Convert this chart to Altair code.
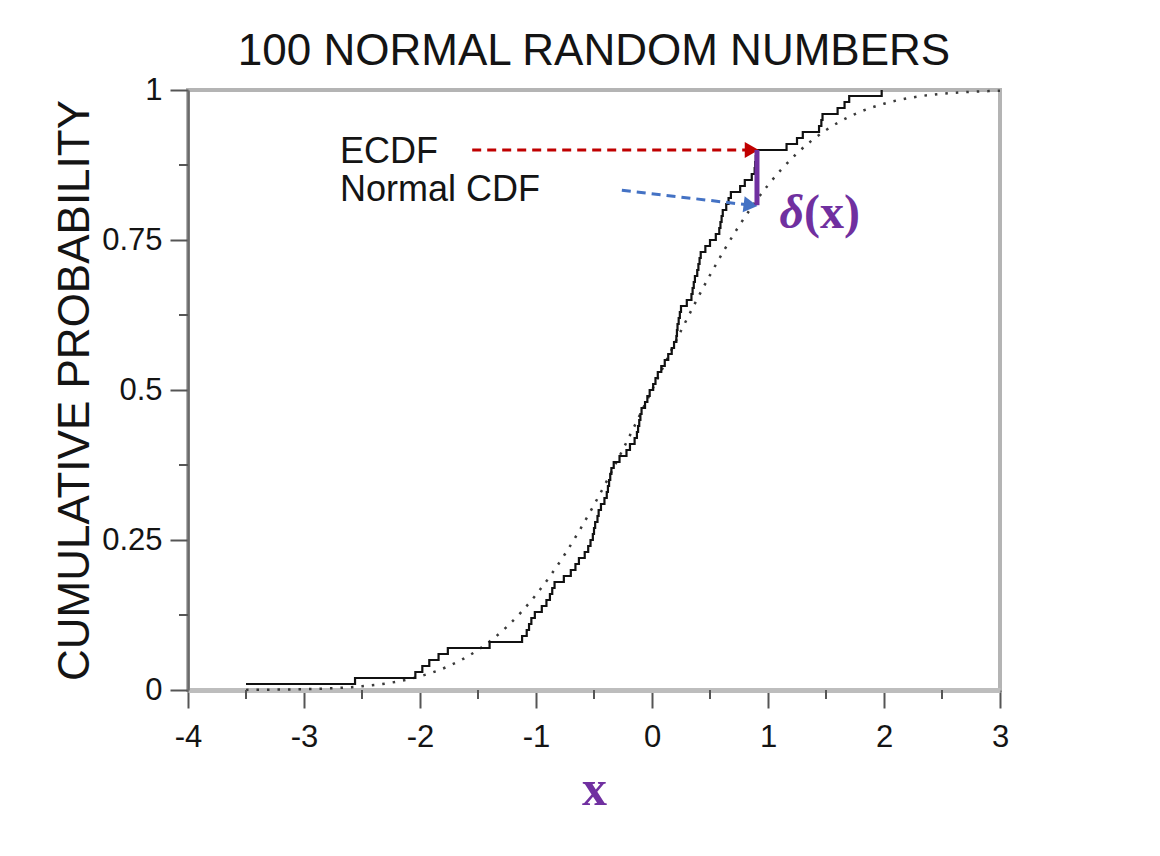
import altair as alt
import pandas as pd

# Sorted sample of 100 normal random numbers (read from the ECDF steps)
ecdf_x = [
    -3.50, -2.56, -2.04, -1.98, -1.92, -1.84, -1.76, -1.40, -1.12, -1.08,
    -1.06, -1.04, -1.01, -0.95, -0.91, -0.88, -0.86, -0.84, -0.76, -0.70,
    -0.66, -0.63, -0.58, -0.55, -0.53, -0.51, -0.50, -0.49, -0.47, -0.46,
    -0.44, -0.41, -0.39, -0.38, -0.37, -0.36, -0.35, -0.33, -0.28, -0.22,
    -0.19, -0.15, -0.13, -0.12, -0.11, -0.10, -0.09, -0.06, -0.04, -0.02,
    0.01, 0.03, 0.05, 0.08, 0.11, 0.14, 0.17, 0.19, 0.21, 0.215,
    0.22, 0.23, 0.24, 0.25, 0.30, 0.34, 0.35, 0.36, 0.37, 0.39,
    0.40, 0.41, 0.42, 0.46, 0.50, 0.55, 0.58, 0.59, 0.60, 0.61,
    0.64, 0.66, 0.68, 0.76, 0.80, 0.86, 0.885, 0.89, 0.895, 0.90,
    1.16, 1.25, 1.30, 1.44, 1.46, 1.47, 1.60, 1.66, 1.70, 1.98,
]

# Normal CDF curve (dotted)
normal_x = [-3.5, -3.25, -3.0, -2.75, -2.5, -2.25, -2.0, -1.75, -1.5, -1.25,
            -1.0, -0.75, -0.5, -0.25, 0.0, 0.25, 0.5, 0.75, 1.0, 1.25,
            1.5, 1.75, 2.0, 2.25, 2.5, 2.75, 3.0]
normal_p = [0.0002, 0.0006, 0.0013, 0.003, 0.0062, 0.0122, 0.0228, 0.0401, 0.0668, 0.1056,
            0.1587, 0.2266, 0.3085, 0.4013, 0.5, 0.5987, 0.6915, 0.7734, 0.8413, 0.8944,
            0.9332, 0.9599, 0.9772, 0.9878, 0.9938, 0.997, 0.9987]

# Axis ticks
x_major = [-4, -3, -2, -1, 0, 1, 2, 3]
x_minor = [-3.5, -2.5, -1.5, -0.5, 0.5, 1.5, 2.5]
y_major = [0, 0.25, 0.5, 0.75, 1]
y_minor = [0.125, 0.375, 0.625, 0.875]

# Annotations
red_x = [-1.55, 0.86]
red_y = [0.9, 0.9]
blue_x = [-0.26, 0.85]
blue_y = [0.833, 0.808]
delta_x = 0.905
delta_top = 0.9
delta_bottom = 0.808
label_texts = ["ECDF", "Normal CDF"]
label_x = [-2.69, -2.69]
label_y = [0.878, 0.815]

FONT = "Liberation Sans"
PURPLE = "#7030a0"
INK = "#141414"

xscale = alt.Scale(domain=[-4, 3], nice=False, zero=False)
yscale = alt.Scale(domain=[0, 1], nice=False, zero=False)

ecdf_df = pd.DataFrame({"x": ecdf_x})
ecdf = (
    alt.Chart(ecdf_df)
    .transform_window(cnt="count()", sort=[{"field": "x"}])
    .transform_calculate(p="datum.cnt / 100")
    .mark_line(interpolate="step-after", color="#111111", strokeWidth=2.2)
    .encode(
        x=alt.X("x:Q", scale=xscale,
                axis=alt.Axis(values=x_major, labelExpr="toString(datum.value)", title="x",
                              tickSize=18, labelPadding=14, titlePadding=12,
                              labelFlush=False)),
        y=alt.Y("p:Q", scale=yscale,
                axis=alt.Axis(values=y_major, labelExpr="toString(datum.value)",
                              title="CUMULATIVE PROBABILITY",
                              tickSize=18, labelPadding=8, titlePadding=4,
                              labelFlush=False)),
        order="cnt:Q",
    )
)

normal_df = pd.DataFrame({"x": normal_x, "p": normal_p})
normal = alt.Chart(normal_df).mark_line(
    color="#3a3a3a", strokeWidth=2.5, strokeDash=[2.5, 8], interpolate="monotone"
).encode(x="x:Q", y="p:Q")

xminor_df = pd.DataFrame({"x": x_minor, "y": [0] * len(x_minor)})
xminor = alt.Chart(xminor_df).mark_rule(
    color="#555555", strokeWidth=2, clip=False, yOffset=0, y2Offset=9
).encode(x="x:Q", y="y:Q", y2=alt.Y2("y:Q"))

yminor_df = pd.DataFrame({"y": y_minor, "x": [-4] * len(y_minor)})
yminor = alt.Chart(yminor_df).mark_rule(
    color="#555555", strokeWidth=2, clip=False, xOffset=-9, x2Offset=0
).encode(y="y:Q", x="x:Q", x2=alt.X2("x:Q"))

red_df = pd.DataFrame({"x": red_x, "y": red_y})
red_line = alt.Chart(red_df).mark_line(
    color="#c00000", strokeWidth=3, strokeDash=[9, 6]
).encode(x="x:Q", y="y:Q")
red_head = alt.Chart(red_df.tail(1)).mark_point(
    shape="triangle-right", filled=True, color="#c00000", size=260, opacity=1
).encode(x="x:Q", y="y:Q")

blue_df = pd.DataFrame({"x": blue_x, "y": blue_y})
blue_line = alt.Chart(blue_df).mark_line(
    color="#4472c4", strokeWidth=3, strokeDash=[9, 6]
).encode(x="x:Q", y="y:Q")
blue_head = alt.Chart(blue_df.tail(1)).mark_point(
    shape="triangle-right", filled=True, color="#4472c4", size=260, opacity=1, angle=7
).encode(x="x:Q", y="y:Q")

delta_df = pd.DataFrame({"x": [delta_x], "y": [delta_top], "y2": [delta_bottom]})
delta_rule = alt.Chart(delta_df).mark_rule(color=PURPLE, strokeWidth=5).encode(
    x="x:Q", y="y:Q", y2="y2:Q"
)
delta_sym_df = pd.DataFrame({"x": [1.10], "y": [0.77], "t": ["δ"]})
delta_sym = alt.Chart(delta_sym_df).mark_text(
    font="Liberation Serif", fontSize=48, fontWeight="bold", fontStyle="italic",
    color=PURPLE, align="left", baseline="alphabetic"
).encode(x="x:Q", y="y:Q", text="t:N")
delta_arg_df = pd.DataFrame({"x": [1.31], "y": [0.77], "t": ["(x)"]})
delta_arg = alt.Chart(delta_arg_df).mark_text(
    font="Liberation Serif", fontSize=48, fontWeight="bold",
    color=PURPLE, align="left", baseline="alphabetic"
).encode(x="x:Q", y="y:Q", text="t:N")

labels_df = pd.DataFrame({"x": label_x, "y": label_y, "t": label_texts})
labels = alt.Chart(labels_df).mark_text(
    font=FONT, fontSize=36, color=INK, align="left", baseline="alphabetic"
).encode(x="x:Q", y="y:Q", text="t:N")

chart = (
    alt.layer(normal, ecdf, xminor, yminor, red_line, red_head, blue_line, blue_head,
              delta_rule, delta_sym, delta_arg, labels)
    .properties(
        width=812, height=600,
        title=alt.TitleParams("100 NORMAL RANDOM NUMBERS", font=FONT, fontSize=44,
                              fontWeight="normal", color=INK, offset=0,
                              anchor="middle"),
        autosize=alt.AutoSizeParams(type="none"),
        padding={"left": 180, "top": 82, "right": 150, "bottom": 150},
    )
    .configure_view(stroke="#b4b4b4", strokeWidth=4)
    .configure_axis(
        labelFont=FONT, labelFontSize=31, labelColor=INK,
        titleFont=FONT, titleFontSize=44, titleFontWeight="normal", titleColor=INK,
        tickColor="#555555", tickWidth=2, grid=False,
    )
    .configure_axisY(domainColor="#6a6a6a", domainWidth=2.5)
    .configure_axisX(domainColor="#bdbdbd", domainWidth=5,
                     titleFont="Liberation Serif", titleFontWeight="bold",
                     titleColor=PURPLE, titleFontSize=50)
)

chart.save("out.html", embed_options={"renderer": "svg", "actions": False})
